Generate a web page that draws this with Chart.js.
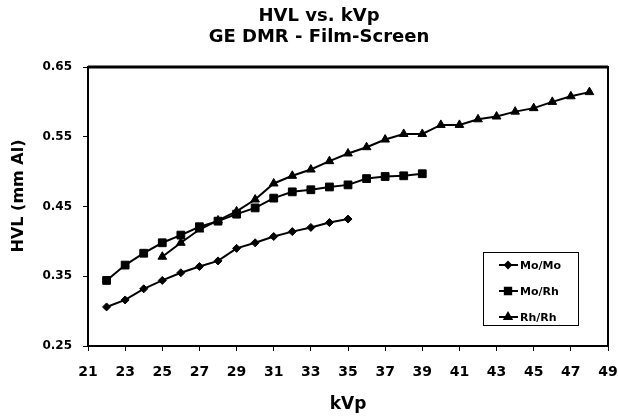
<!DOCTYPE html>
<html>
<head>
<meta charset="utf-8">
<script src="https://cdn.jsdelivr.net/npm/chart.js@4"></script>
<style>
    html, body { margin: 0; padding: 0; background: #fff; }
    #wrap { width: 618px; height: 417px; }
</style>
</head>
<body>
<div id="wrap"><canvas id="hvlChart" width="618" height="417"></canvas></div>
<script>
const titleLines = ['HVL vs. kVp', 'GE DMR - Film-Screen'];
const xTitle = 'kVp';
const yTitle = 'HVL (mm Al)';

const seriesNames = ['Mo/Mo', 'Mo/Rh', 'Rh/Rh'];
const pointStyles = ['rectRot', 'rect', 'triangle'];

const moMoKvp = [22, 23, 24, 25, 26, 27, 28, 29, 30, 31, 32, 33, 34, 35];
const moMoHvl = [0.306, 0.316, 0.332, 0.344, 0.355, 0.364, 0.372, 0.390, 0.398, 0.407, 0.414, 0.420, 0.427, 0.432];

const moRhKvp = [22, 23, 24, 25, 26, 27, 28, 29, 30, 31, 32, 33, 34, 35, 36, 37, 38, 39];
const moRhHvl = [0.344, 0.366, 0.383, 0.398, 0.409, 0.421, 0.429, 0.439, 0.448, 0.462, 0.471, 0.474, 0.478, 0.481, 0.490, 0.493, 0.494, 0.497];

const rhRhKvp = [25, 26, 27, 28, 29, 30, 31, 32, 33, 34, 35, 36, 37, 38, 39, 40, 41, 42, 43, 44, 45, 46, 47, 48];
const rhRhHvl = [0.378, 0.398, 0.417, 0.430, 0.443, 0.460, 0.483, 0.494, 0.503, 0.515, 0.526, 0.535, 0.546, 0.554, 0.554, 0.567, 0.567, 0.575, 0.579, 0.586, 0.591, 0.600, 0.608, 0.614];

const xMin = 21, xMax = 49, xStep = 2;
const yMin = 0.25, yMax = 0.65, yStep = 0.1;

const FONT = "'DejaVu Sans', sans-serif";
const pointSizes = [4, 5.5, 5];

function toPoints(xs, ys) {
    return xs.map((x, i) => ({ x: x, y: ys[i] }));
}

const allSeries = [
    toPoints(moMoKvp, moMoHvl),
    toPoints(moRhKvp, moRhHvl),
    toPoints(rhRhKvp, rhRhHvl)
];

// titles, plot frame and the boxed legend in the lower right
const decorations = {
    id: 'decorations',
    afterDraw(chart) {
        const ctx = chart.ctx;
        const area = chart.chartArea;
        ctx.save();

        // frame
        ctx.strokeStyle = '#000';
        ctx.lineWidth = 2;
        ctx.strokeRect(area.left, area.top, area.right - area.left, area.bottom - area.top);
        ctx.lineWidth = 3;
        ctx.beginPath();
        ctx.moveTo(area.left, area.top);
        ctx.lineTo(area.right, area.top);
        ctx.stroke();

        // main title
        ctx.fillStyle = '#000';
        ctx.textAlign = 'center';
        ctx.textBaseline = 'middle';
        ctx.font = 'bold 18px ' + FONT;
        ctx.fillText(titleLines[0], 319, 16);
        ctx.fillText(titleLines[1], 319, 37);

        // y axis title
        ctx.save();
        ctx.translate(19, 196);
        ctx.rotate(-Math.PI / 2);
        ctx.font = 'bold 16px ' + FONT;
        ctx.fillText(yTitle, 0, 0);
        ctx.restore();

        // legend
        const box = { left: 483, top: 252, width: 95, height: 73 };
        ctx.fillStyle = '#fff';
        ctx.fillRect(box.left, box.top, box.width, box.height);
        ctx.lineWidth = 1;
        ctx.strokeRect(box.left + 0.5, box.top + 0.5, box.width, box.height);

        chart.data.datasets.forEach((ds, i) => {
            const y = box.top + 13 + i * 26;
            ctx.strokeStyle = '#000';
            ctx.lineWidth = 2;
            ctx.beginPath();
            ctx.moveTo(box.left + 16, y);
            ctx.lineTo(box.left + 35, y);
            ctx.stroke();
            ctx.fillStyle = '#000';
            Chart.helpers.drawPoint(ctx, { pointStyle: ds.pointStyle, radius: ds.pointRadius - 1, borderWidth: 1 }, box.left + 25, y);
            ctx.fill();
            ctx.font = 'bold 11px ' + FONT;
            ctx.textAlign = 'left';
            ctx.fillText(ds.label, box.left + 37, y + 1);
        });

        ctx.restore();
    }
};

new Chart(document.getElementById('hvlChart'), {
    type: 'line',
    data: {
        datasets: seriesNames.map((name, i) => ({
            label: name,
            data: allSeries[i],
            borderColor: '#000',
            backgroundColor: '#000',
            borderWidth: 2,
            pointStyle: pointStyles[i],
            pointRadius: pointSizes[i],
            pointBorderWidth: 1,
            tension: 0
        }))
    },
    options: {
        responsive: false,
        animation: false,
        layout: { padding: { left: 0, right: 10, top: 67, bottom: 0 } },
        plugins: {
            legend: { display: false },
            title: { display: false },
            tooltip: { enabled: false }
        },
        scales: {
            x: {
                type: 'linear',
                min: xMin,
                max: xMax,
                afterFit: (scale) => {
                    scale.height = 71;
                    scale.paddingLeft = 0;
                    scale.paddingRight = 0;
                },
                ticks: {
                    stepSize: xStep,
                    padding: 13,
                    color: '#000',
                    font: { family: FONT, size: 14, weight: 'bold' }
                },
                grid: { drawOnChartArea: false, drawTicks: true, tickLength: 5, color: '#000' },
                border: { display: true, color: '#000', width: 2 },
                title: {
                    display: true,
                    text: xTitle,
                    color: '#000',
                    padding: { top: 0, bottom: 2 },
                    font: { family: FONT, size: 17, weight: 'bold' }
                }
            },
            y: {
                min: yMin,
                max: yMax,
                afterFit: (scale) => {
                    scale.width = 88;
                    scale.paddingTop = 0;
                    scale.paddingBottom = 0;
                },
                ticks: {
                    stepSize: yStep,
                    padding: 11,
                    color: '#000',
                    font: { family: FONT, size: 12, weight: 'bold' },
                    callback: (v) => v.toFixed(2)
                },
                grid: { drawOnChartArea: false, drawTicks: true, tickLength: 5, color: '#000' },
                border: { display: true, color: '#000', width: 2 }
            }
        }
    },
    plugins: [decorations]
});
</script>
</body>
</html>
